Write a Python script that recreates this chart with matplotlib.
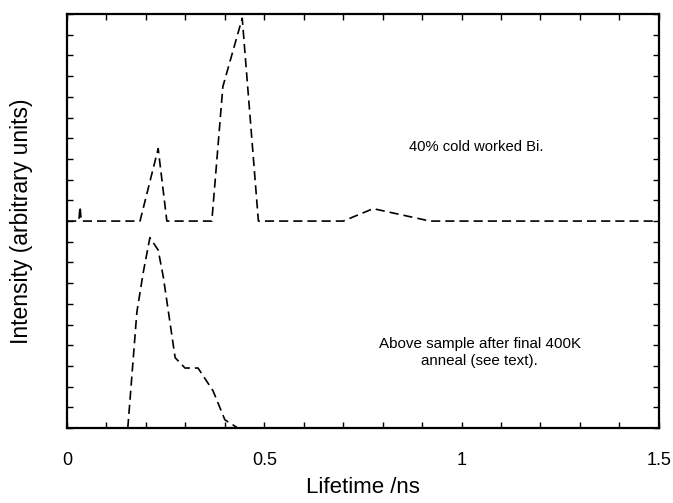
import numpy as np
import matplotlib.pyplot as plt
from matplotlib.ticker import MultipleLocator

plt.rcParams['font.family'] = ['Liberation Sans', 'DejaVu Sans']

# Cold worked sample (plotted with an offset of 10 above the annealed one)
t_cold = [0.0, 0.030, 0.033, 0.036, 0.185, 0.231, 0.253, 0.367, 0.395, 0.444,
          0.485, 0.70, 0.776, 0.92, 1.5]
i_cold = [0.0, 0.0, 0.7, 0.0, 0.0, 3.5, 0.0, 0.0, 6.5, 9.8,
          0.0, 0.0, 0.6, 0.0, 0.0]
offset_cold = 10

# After final 400K anneal
t_ann = [0.154, 0.177, 0.193, 0.210, 0.231, 0.244, 0.274, 0.299, 0.332, 0.370, 0.400, 0.433]
i_ann = [0.0, 5.6, 7.5, 9.2, 8.6, 7.3, 3.4, 2.9, 2.9, 1.8, 0.4, 0.0]

x_ticks = [0, 0.5, 1, 1.5]
x_labels = ['0', '0.5', '1', '1.5']

fig = plt.figure(figsize=(6.73, 5.03), dpi=100)
ax = fig.add_axes([0.0996, 0.149, 0.8794, 0.823])

ax.plot(t_cold, np.array(i_cold) + offset_cold, color='black', lw=1.2, ls=(0, (5.5, 3)))
ax.plot(t_ann, i_ann, color='black', lw=1.2, ls=(0, (5.5, 3)))

ax.set_xlim(0, 1.5)
ax.set_ylim(0, 20)
ax.set_xticks(x_ticks)
ax.set_xticklabels(x_labels)
ax.xaxis.set_minor_locator(MultipleLocator(0.1))
ax.yaxis.set_major_locator(MultipleLocator(1))
ax.set_yticklabels([])
ax.tick_params(which='both', direction='in', top=True, right=True, length=4, width=1)
ax.tick_params(axis='x', labelsize=13, pad=17)
for s in ax.spines.values():
    s.set_linewidth(1.6)

ax.set_xlabel('Lifetime /ns', fontsize=16, labelpad=6)
ax.set_ylabel('Intensity (arbitrary units)', fontsize=16.5, labelpad=21)

ax.text(1.036, 13.6, '40% cold worked Bi.', fontsize=10.6, ha='center', va='center')
ax.text(1.046, 3.65, 'Above sample after final 400K\nanneal (see text).', fontsize=10.9,
        ha='center', va='center', linespacing=1.35)

plt.savefig('out.png', dpi=100)
